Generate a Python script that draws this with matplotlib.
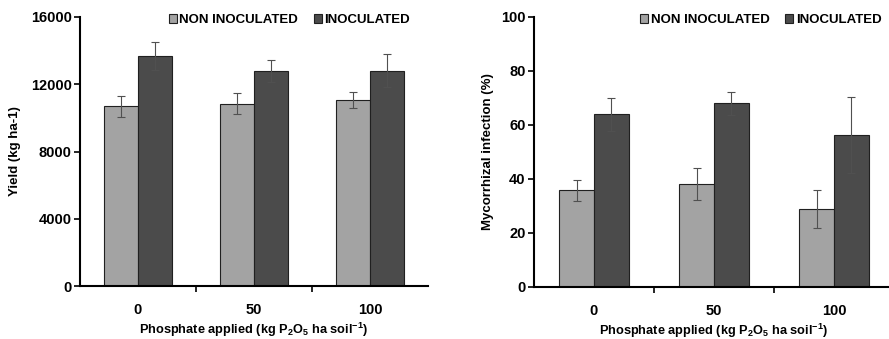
import numpy as np
import matplotlib
matplotlib.use('Agg')
import matplotlib.pyplot as plt

plt.rcParams['font.family'] = ['Liberation Sans', 'DejaVu Sans']
plt.rcParams['font.weight'] = 'bold'
plt.rcParams['axes.labelweight'] = 'bold'
plt.rcParams['font.size'] = 9.5

# data
phosphate = ['0', '50', '100']
series = ['NON INOCULATED', 'INOCULATED']

yield_non = [10700, 10830, 11060]
yield_non_err = [620, 620, 490]
yield_ino = [13680, 12810, 12810]
yield_ino_err = [810, 660, 1000]

myc_non = [35.8, 38.1, 28.9]
myc_non_err = [4.0, 6.0, 7.0]
myc_ino = [63.9, 68.0, 56.4]
myc_ino_err = [6.1, 4.2, 14.0]

light = '#a3a3a3'
dark = '#4b4b4b'
W, H = 889, 339

fig = plt.figure(figsize=(W / 100, H / 100), dpi=100)


def panel(rect, non, non_err, ino, ino_err, ylim, yticks, ylabel, leg_anchor):
    ax = fig.add_axes(rect)
    x = np.arange(len(phosphate))
    bw = 0.29
    ax.bar(x - bw / 2, non, bw, color=light, edgecolor='#202020', lw=0.8, label=series[0])
    ax.bar(x + bw / 2, ino, bw, color=dark, edgecolor='#202020', lw=0.8, label=series[1])
    ax.errorbar(x - bw / 2, non, yerr=non_err, fmt='none', ecolor='#505050',
                elinewidth=0.8, capsize=3, capthick=0.8)
    ax.errorbar(x + bw / 2, ino, yerr=ino_err, fmt='none', ecolor='#505050',
                elinewidth=0.8, capsize=3, capthick=0.8)
    ax.set_xlim(-0.5, 2.5)
    ax.set_ylim(*ylim)
    ax.set_yticks(yticks)
    ax.set_xticks(x)
    ax.set_xticklabels(phosphate)
    ax.set_xticks([0.5, 1.5], minor=True)
    ax.tick_params(axis='x', which='major', length=0, pad=12, labelsize=10.5)
    ax.tick_params(axis='x', which='minor', length=4, width=1.2, direction='out')
    ax.tick_params(axis='y', length=4, width=1.2, direction='out', pad=2, labelsize=10.5)
    for s in ['top', 'right']:
        ax.spines[s].set_visible(False)
    for s in ['left', 'bottom']:
        ax.spines[s].set_linewidth(1.5)
    ax.set_ylabel(ylabel)
    ax.set_xlabel(r'Phosphate applied (kg P$\mathregular{_2}$O$\mathregular{_5}$ ha soil$\mathregular{^{-1}}$)',
                  labelpad=3, fontsize=9.2)
    ax.legend(loc='upper left', bbox_to_anchor=leg_anchor, ncol=2, frameon=False,
              handlelength=0.6, handleheight=0.6, handletextpad=0.2,
              columnspacing=1.2, borderaxespad=0)
    return ax


ax1 = panel([80 / W, 53 / H, 348 / W, 269 / H], yield_non, yield_non_err, yield_ino, yield_ino_err,
            (0, 16000), [0, 4000, 8000, 12000, 16000], 'Yield (kg ha-1)', (0.24, 1.03))
ax1.yaxis.set_label_coords(-0.17, 0.5)

ax2 = panel([534 / W, 52 / H, 360 / W, 270 / H], myc_non, myc_non_err, myc_ino, myc_ino_err,
            (0, 100), [0, 20, 40, 60, 80, 100], 'Mycorrhizal infection (%)', (0.28, 1.03))
ax2.yaxis.set_label_coords(-0.11, 0.5)

fig.savefig('out.png', dpi=100)
